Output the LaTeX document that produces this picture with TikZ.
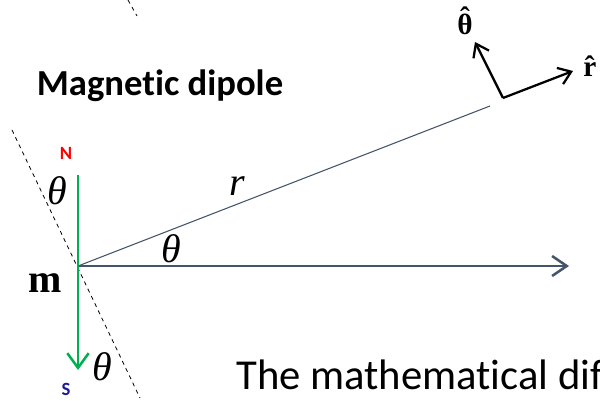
\documentclass[tikz,border=0pt]{standalone}
\usepackage{fontspec}
\newfontfamily\calibri[Ligatures=NoCommon]{Carlito}
\newfontfamily\timesf{Liberation Serif}
\usetikzlibrary{arrows.meta,positioning}
\definecolor{slate}{HTML}{44546A}
\definecolor{dipgreen}{HTML}{00B050}
\definecolor{sblue}{HTML}{1A1A9A}
\newcommand{\hatted}[2]{\ooalign{#1\cr\hidewidth\raisebox{#2}{ˆ}\hidewidth\cr}}

\begin{document}
\begin{tikzpicture}[
  x=0.75pt, y=-0.75pt,
  font=\calibri,
  axis/.style={draw=slate, line width=1.9pt, -{Straight Barb[length=11pt, width=15pt]}},
  ray/.style={draw=slate, line width=0.8pt},
  dip/.style={draw=dipgreen, line width=1.9pt, -{Straight Barb[length=11pt, width=16pt]}},
  unit/.style={draw=black, line width=1.7pt, -{Straight Barb[length=9pt, width=13pt]}},
  guide/.style={draw=black, line width=0.6pt, dashed},
  sym/.style={font=\timesf\itshape\fontsize{30}{32}\selectfont, inner sep=0pt},
  bsym/.style={font=\timesf\bfseries\fontsize{22}{24}\selectfont, inner sep=0pt},
  pole/.style={font=\calibri\bfseries\fontsize{14}{16}\selectfont, inner sep=0pt}
]
  \useasboundingbox (0,0) rectangle (600,402);

  \coordinate (o) at (78,266);
  \coordinate (xend) at (569,266);
  \coordinate (rend) at (490,106);
  \coordinate (ntop) at (78,175);
  \coordinate (sbot) at (78,370);
  \coordinate (corner) at (503,98);
  \coordinate (rtip) at (573,71);
  \coordinate (ttip) at (475,42);

  % dashed guide lines
  \draw[guide] (12,130) -- (140,398);
  \draw[guide] (128,0) -- (137,16);

  \draw[ray] (o) -- (rend);
  \draw[axis] (o) -- (xend);
  \draw[dip] (ntop) -- (sbot);

  \draw[unit] (corner) -- (rtip);
  \draw[unit] (corner) -- (ttip);

  \node[font=\calibri\bfseries\fontsize{27.5}{30}\selectfont] (title) at (160,86) {Magnetic dipole};
  \node[anchor=base west, inner sep=0pt, font=\calibri\fontsize{32}{35}\selectfont] (foot) at (236,390) {The mathematical dif};

  \node[pole, text=red] (nlabel) at (66,153) {N};
  \node[pole, text=sblue] (slabel) at (66,389) {S};

  \node[sym] (thtop) at (57,191) {θ};
  \node[sym] (thmid) at (171,249) {θ};
  \node[sym] (thbot) at (102,367) {θ};
  \node[sym] (rlabel) at (237,186) {r};
  \node[bsym, font=\timesf\bfseries\fontsize{30}{32}\selectfont] (mlabel) at (45,283) {m};
  \node[bsym] (thhat) at (465,24) {\hatted{θ}{0.22em}};
  \node[bsym, anchor=west] (rhat) at (583,70) {\hatted{r}{0pt}};
\end{tikzpicture}
\end{document}
